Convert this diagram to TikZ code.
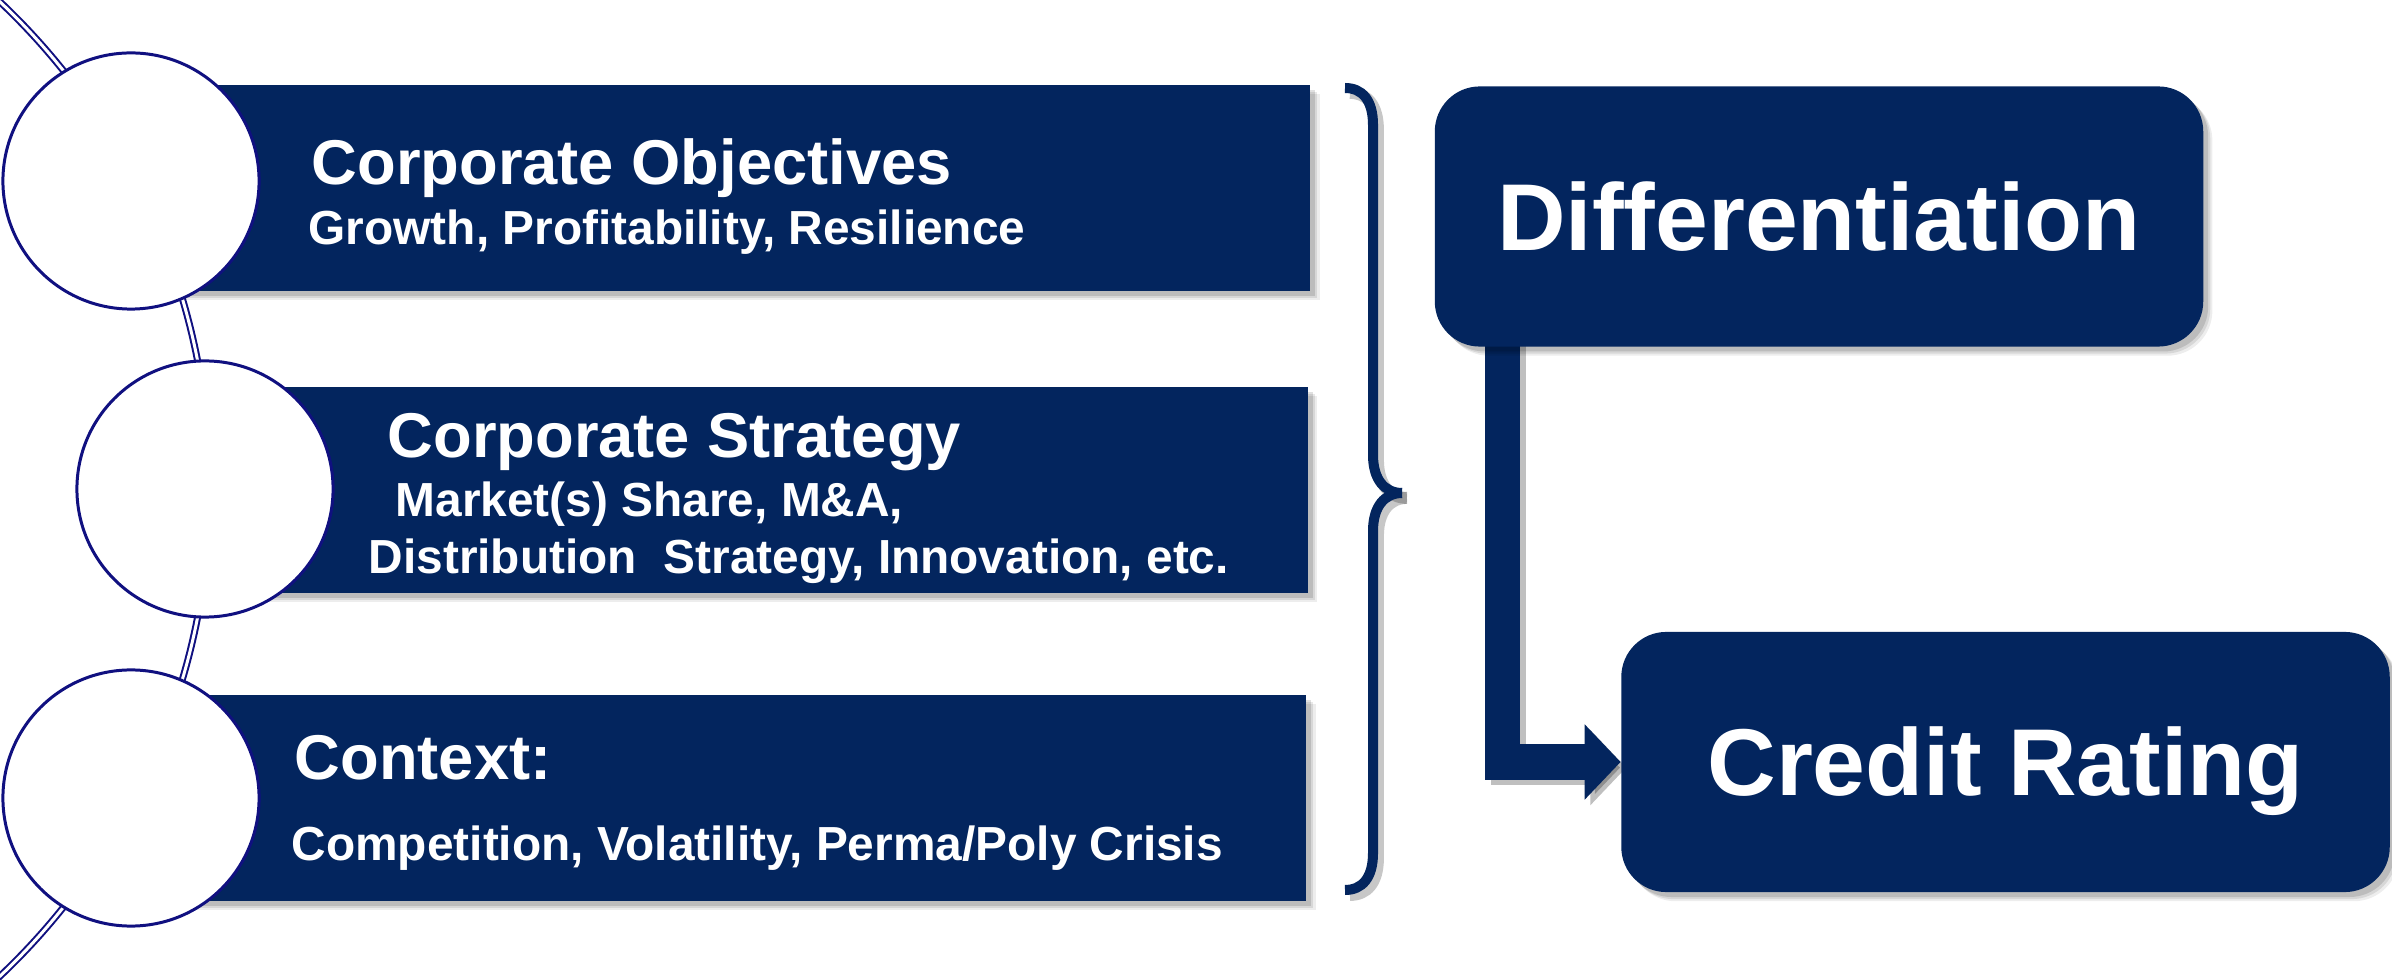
\documentclass[tikz,border=0pt]{standalone}
\usepackage{fontspec}
\setmainfont{Liberation Sans}
\usetikzlibrary{arrows.meta,calc}
\definecolor{navyfill}{RGB}{3,37,94}
\definecolor{ringline}{RGB}{16,16,128}
\pgfdeclarelayer{back}
\pgfdeclarelayer{paper}
\pgfsetlayers{paper,back,main}

\begin{document}
\begin{tikzpicture}[x=0.01cm,y=-0.01cm,
  softshadow/.style={
      preaction={fill=black, opacity=0.07, transform canvas={xshift=2.6pt, yshift=-2.6pt}},
      preaction={fill=black, opacity=0.09, transform canvas={xshift=2.0pt, yshift=-2.0pt}},
      preaction={fill=black, opacity=0.12, transform canvas={xshift=1.4pt, yshift=-1.4pt}}},
  band/.style={rectangle, fill=navyfill, inner sep=0pt, minimum height=2.06cm, softshadow},
  ring/.style={circle, fill=white, draw=ringline, line width=0.85pt,
      minimum size=2.56cm, inner sep=0pt},
  card/.style={rectangle, rounded corners=0.45cm, fill=navyfill, inner sep=0pt,
      minimum width=7.68cm, minimum height=2.6cm, text=white,
      font=\bfseries\fontsize{27}{32}\selectfont, text height=19.3pt, text depth=0pt, softshadow},
  big/.style={anchor=base west, inner sep=0pt, text=white, font=\bfseries\fontsize{18}{22}\selectfont},
  small/.style={anchor=base west, inner sep=0pt, text=white, font=\bfseries\fontsize{13.6}{16}\selectfont},
  chain/.style={draw=ringline, line width=0.57pt, double=white, double distance=0.85pt},
  bracestroke/.style={draw=navyfill, line width=2.85pt, line cap=butt},
  braceshade/.style={draw=black, opacity=0.22, line width=3.4pt, line cap=butt},
  flow/.style={draw=navyfill, line width=9.96pt, line join=miter,
      -{Triangle[width=20.8pt,length=10.2pt]}},
  flowshade/.style={draw=black, opacity=0.25, line width=9.96pt, line join=miter,
      -{Triangle[width=20.8pt,length=10.2pt]}},
]
\useasboundingbox (0,0) rectangle (2392,980);
\begin{pgfonlayer}{paper}
  \fill[white] (0,0) rectangle (2392,980);
\end{pgfonlayer}

% three bands, each with its ring on the left
\node[band, minimum width=11.79cm] (band1) at (720.5,188) {};
\node[band, minimum width=11.03cm] (band2) at (756.5,490) {};
\node[band, minimum width=11.75cm] (band3) at (718.5,798) {};

\node[ring] (ring1) at (131,181) {};
\node[ring] (ring2) at (205,489) {};
\node[ring] (ring3) at (131,798) {};

% band texts
\node[big]   (t1a) at (311,185) {Corporate Objectives};
\node[small] (t1b) at (308,245) {Growth, Profitability, Resilience};
\node[big]   (t2a) at (387,458) {Corporate Strategy};
\node[small] (t2b) at (395,517) {Market(s) Share, M\&A,};
\node[small] (t2c) at (368,574) {Distribution\ \ Strategy, Innovation, etc.};
\node[big]   (t3a) at (294,779) {Context:};
\node[small] (t3b) at (291,860) {Competition, Volatility, Perma/Poly Crisis};

% outcome cards
\node[card] (diff) at (1819,216.5) {Differentiation};
\node[card] (credit) at (2005.5,762) {Credit Rating};

\begin{pgfonlayer}{back}
  % double arc threading the rings
  \draw[chain] (-460,489) ++(-47:670) arc[start angle=-47, end angle=47, radius=670];

  % elbow arrow from Differentiation to Credit Rating
  \coordinate (elbowtop) at ($(diff.south west)+(68.5,-10)$);
  \draw[flowshade, transform canvas={xshift=1.6pt,yshift=-1.6pt}] (elbowtop) |- (credit.west);
  \draw[flow] (elbowtop) |- (credit.west);

  % closing brace
  \begin{scope}[transform canvas={xshift=1.4pt,yshift=-1.4pt}]
    \draw[braceshade] (1345,88) .. controls (1362,88) and (1373,100) .. (1373,125)
      -- (1373,455) .. controls (1373,480) and (1385,493) .. (1402,493);
    \draw[braceshade] (1402,493) .. controls (1385,493) and (1373,506) .. (1373,531)
      -- (1373,853) .. controls (1373,878) and (1362,890) .. (1345,890);
  \end{scope}
  \draw[bracestroke] (1345,88) .. controls (1362,88) and (1373,100) .. (1373,125)
    -- (1373,455) .. controls (1373,480) and (1385,493) .. (1402,493);
  \draw[bracestroke] (1402,493) .. controls (1385,493) and (1373,506) .. (1373,531)
    -- (1373,853) .. controls (1373,878) and (1362,890) .. (1345,890);
\end{pgfonlayer}
\end{tikzpicture}
\end{document}
